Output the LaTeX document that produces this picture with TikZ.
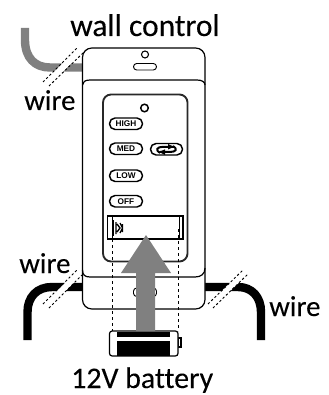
\documentclass[tikz,border=0pt]{standalone}
\usepackage{fontspec}
\setmainfont[Ligatures=NoCommon,FakeBold=0.15]{Carlito}
\newfontfamily\btnfont{Liberation Sans}
\usetikzlibrary{arrows.meta}
\definecolor{wiregray}{RGB}{128,128,128}
\definecolor{edgedark}{RGB}{40,40,40}
\tikzset{
  x=0.75pt,y=-0.75pt,
  body/.style={line width=0.9pt,draw=black},
  label/.style={inner sep=0pt,anchor=base west,text=black},
  biglabel/.style={label,font=\fontsize{23.6pt}{26pt}\selectfont},
  midlabel/.style={label,font=\fontsize{22.4pt}{26pt}\selectfont},
  wirelabel/.style={label,font=\fontsize{21.6pt}{26pt}\selectfont},
  btn/.style={draw=black,line width=1.1pt,fill=white,rounded corners=4.2pt},
  btntext/.style={inner sep=0pt,font=\btnfont\bfseries\fontsize{6.2pt}{6.5pt}\selectfont},
  wirepath/.style={line width=6.3pt,line cap=butt},
  gapband/.style={draw=white,line width=4.6pt},
  breakline/.style={draw=black,line width=0.7pt,dash pattern=on 1.7pt off 1.7pt},
  guide/.style={draw=black,line width=0.7pt,dash pattern=on 2.6pt off 1.9pt},
}
\begin{document}
\begin{tikzpicture}
\useasboundingbox (0,0) rectangle (328,395);
% wires
\draw[wirepath,draw=wiregray] (25,28) -- (25,40) .. controls (25,58) and (35,67.5) .. (50,67.5) -- (83,67.5);
\draw[wirepath,draw=black] (27.5,340) -- (27.5,312) .. controls (27.5,297) and (37,287) .. (52,287) -- (83,287);
\draw[wirepath,draw=black] (205,287) -- (238,287) .. controls (252,287) and (261,297) .. (261,312) -- (261,340);
% wire breaks
\coordinate (a1) at (46,84); \coordinate (a2) at (80,50.5);
\coordinate (b1) at (46,306); \coordinate (b2) at (80,272.5);
\coordinate (c1) at (210.5,306); \coordinate (c2) at (245.5,272);
\foreach \p/\q in {a1/a2,b1/b2,c1/c2}{\draw[gapband] (\p) -- (\q);}
\draw[breakline] (43,82) -- (77,48);
\draw[breakline] (49,86) -- (83,53);
\draw[breakline] (43,304) -- (77,270);
\draw[breakline] (49,308) -- (82,275);
\draw[breakline] (208,304) -- (243,270);
\draw[breakline] (213,308) -- (248,274);
% plate
\draw[body,fill=white,rounded corners=7pt] (82.5,48) rectangle (205,309);
\draw[body] (82.5,85) .. controls (82.5,82) and (85,80) .. (90,80) -- (197,80) .. controls (202,80) and (205,82) .. (205,85);
\draw[body] (82.5,270) .. controls (82.5,275) and (85,277) .. (90,277) -- (195,277) .. controls (201,277) and (205,274) .. (205,268);
\draw[line width=0.8pt] (145,54.5) circle (3.5);
\draw[line width=0.7pt,rounded corners=2.4pt] (133.5,63.5) rectangle (156.5,70);
\draw[line width=0.7pt,rounded corners=2.4pt] (133.5,288) rectangle (156.5,296.5);
% remote
\draw[line width=1.4pt,draw=edgedark,rounded corners=6pt] (103,94.5) rectangle (187.5,261.5);
\draw[body,line width=1.1pt] (144.5,108) circle (3.8);
\draw[btn] (109.5,118) rectangle (142.5,129.5);
\node[btntext] (high) at (126,124) {HIGH};
\draw[btn] (109.5,143) rectangle (142.5,154.5);
\node[btntext] (med) at (126,149) {MED};
\draw[btn] (150.5,143.5) rectangle (182.5,155);
\draw[btn] (109.5,170) rectangle (142.5,181.5);
\node[btntext] (low) at (126,176) {LOW};
\draw[btn] (109.5,195.5) rectangle (142.5,207);
\node[btntext] (off) at (126,201.5) {OFF};
% swap icon
\draw[line width=1.5pt] (160,153) .. controls (155,150) and (157,146.8) .. (163,146.8) -- (174,146.8);
\fill (168,144) -- (174,146.8) -- (168,149.5) -- cycle;
\draw[line width=1.5pt] (173,146) .. controls (178,149) and (176,152) .. (170,152) -- (160,152);
\fill (165,149.3) -- (159,152) -- (165,155) -- cycle;
% window
\draw[body,fill=white] (107.5,216) rectangle (183,239);
\draw[line width=0.6pt] (112,216) -- (112,239) (179,216) -- (179,239);
\draw[line width=1.8pt] (112.8,220) -- (112.8,236);
\draw[line width=1pt] (116,222) -- (116,234) (117,224) -- (120,228) -- (117,232) (120,223) -- (122.5,228) -- (120,233) (122.5,224) -- (122.5,232);
% guides
\draw[guide] (112,239) -- (112,331);
\draw[guide] (178.5,229) -- (178.5,331);
% battery
\draw[line width=0.8pt,fill=white] (178,338) rectangle (181,347);
\draw[body,fill=white,rounded corners=2pt] (109.5,331) rectangle (178,356);
\fill[black] (117,331.5) rectangle (170,355.5);
\fill[white] (117,337) rectangle (170,341);
% arrow
\fill[wiregray] (136,331) -- (136,273) -- (121,273) -- (146,235) -- (171,273) -- (155,273) -- (155,331) -- cycle;
% labels
\node[biglabel] (wc) at (70,36) {wall control};
\node[wirelabel] (w1) at (24,110) {wire};
\node[wirelabel] (w2) at (19,273) {wire};
\node[wirelabel] (w3) at (269,316) {wire};
\node[midlabel] (bat) at (71,388) {12V battery};
\end{tikzpicture}
\end{document}
